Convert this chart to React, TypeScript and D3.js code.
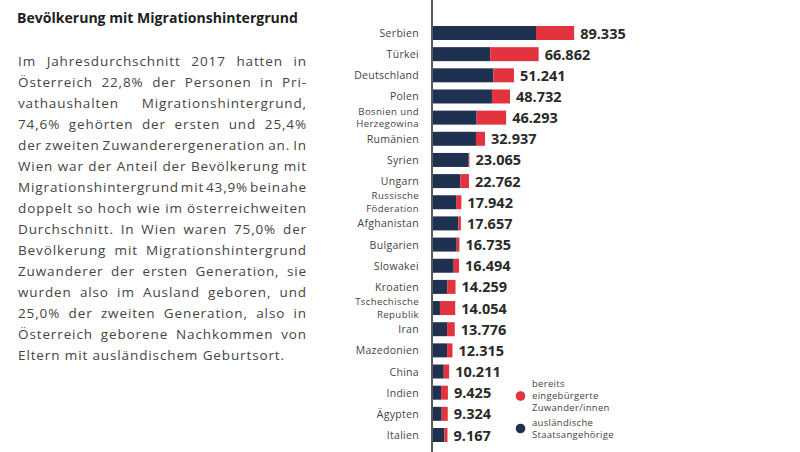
import React, { useMemo } from "react";
import * as d3 from "d3";

const countries = [
  "Serbien", "Türkei", "Deutschland", "Polen", "Bosnien und Herzegowina", "Rumänien",
  "Syrien", "Ungarn", "Russische Föderation", "Afghanistan", "Bulgarien", "Slowakei",
  "Kroatien", "Tschechische Republik", "Iran", "Mazedonien", "China", "Indien", "Ägypten", "Italien",
];
const totals = [89335, 66862, 51241, 48732, 46293, 32937, 23065, 22762, 17942, 17657, 16735, 16494, 14259, 14054, 13776, 12315, 10211, 9425, 9324, 9167];
const foreignNationals = [65200, 36200, 38200, 37300, 27600, 27200, 22600, 17300, 14600, 16000, 15000, 13100, 9000, 4400, 8900, 8900, 6800, 5100, 5500, 7200];
const naturalized = [24135, 30662, 13041, 11432, 18693, 5737, 465, 5462, 3342, 1657, 1735, 3394, 5259, 9654, 4876, 3415, 3411, 4325, 3824, 1967];

const title = "Bevölkerung mit Migrationshintergrund";
const bodyLines = [
  "Im Jahresdurchschnitt 2017 hatten in",
  "Österreich 22,8% der Personen in Pri-",
  "vathaushalten Migrationshintergrund,",
  "74,6% gehörten der ersten und 25,4%",
  "der zweiten Zuwanderergeneration an. In",
  "Wien war der Anteil der Bevölkerung mit",
  "Migrationshintergrund mit 43,9% beinahe",
  "doppelt so hoch wie im österreichweiten",
  "Durchschnitt. In Wien waren 75,0% der",
  "Bevölkerung mit Migrationshintergrund",
  "Zuwanderer der ersten Generation, sie",
  "wurden also im Ausland geboren, und",
  "25,0% der zweiten Generation, also in",
  "Österreich geborene Nachkommen von",
  "Eltern mit ausländischem Geburtsort.",
];
const legendRed = ["bereits", "eingebürgerte", "Zuwander/innen"];
const legendDark = ["ausländische", "Staatsangehörige"];

const RED = "#e2333e";
const NAVY = "#1e3150";
const FONT = "'Open Sans', 'DejaVu Sans', sans-serif";

const W = 800;
const H = 452;

export default function App() {
  const x = d3.scaleLinear().domain([0, 90000]).range([433, 575.2]);
  const y = d3.scalePoint<string>().domain(countries).range([33, 435]);
  const barH = 14;
  const fmt = d3.formatLocale({ decimal: ",", thousands: ".", grouping: [3], currency: ["", "€"] }).format(",d");

  const bodySize = 13.5;
  const textX = 18;
  const textW = 289;
  const lastLineW = 267;

  const { lines, tracking } = useMemo(() => {
    const canvas = document.createElement("canvas");
    const ctx = canvas.getContext("2d")!;
    ctx.font = `${bodySize}px 'Open Sans'`;
    const lastLine = bodyLines[bodyLines.length - 1];
    const tr = Math.max(0, (lastLineW - ctx.measureText(lastLine).width) / lastLine.length);
    const mw = (s: string) => ctx.measureText(s).width + tr * s.length;
    const out = bodyLines.map((line, i) => {
      const words = line.split(" ");
      const widths = words.map((w) => mw(w));
      const sum = widths.reduce((a, b) => a + b, 0);
      const last = i === bodyLines.length - 1;
      const space = last || words.length < 2 ? mw(" ") : (textW - sum) / (words.length - 1);
      let cx = textX;
      return words.map((w, j) => {
        const pos = cx;
        cx += widths[j] + space;
        return { w, pos };
      });
    });
    return { lines: out, tracking: tr };
  }, []);

  return (
    <svg width={W} height={H} style={{ display: "block", position: "absolute", left: 0, top: 0, background: "#fff" }}>
      <rect width={W} height={H} fill="#fff" />
      <text x={17} y={23} fontFamily={FONT} fontWeight={700} fontSize={14} fill="#1e1e1e" textLength={281} lengthAdjust="spacingAndGlyphs">
        {title}
      </text>
      {lines.map((words, i) => (
        <text key={i} y={66 + i * 21} fontFamily={FONT} fontSize={bodySize} fill="#444" letterSpacing={tracking}>
          {words.map((d, j) => (
            <tspan key={j} x={d.pos}>{d.w}</tspan>
          ))}
        </text>
      ))}

      {countries.map((c, i) => {
        const cy = y(c)!;
        const parts = c.length > 12 && c.includes(" ")
          ? [c.slice(0, c.lastIndexOf(" ")), c.slice(c.lastIndexOf(" ") + 1)]
          : [c];
        const x0 = x(0);
        const x1 = x(foreignNationals[i]);
        const x2 = x(foreignNationals[i] + naturalized[i]);
        return (
          <g key={c}>
            <rect x={x0} y={cy - barH / 2} width={x1 - x0} height={barH} fill={NAVY} />
            <rect x={x1} y={cy - barH / 2} width={x2 - x1} height={barH} fill={RED} />
            {parts.length === 1 ? (
              <text x={419} y={cy + 4} textAnchor="end" fontFamily={FONT} fontSize={10.5} fill="#444" letterSpacing={0.3}>{c}</text>
            ) : (
              parts.map((p, k) => (
                <text key={k} x={419} y={cy - 3 + k * 12.5} textAnchor="end" fontFamily={FONT} fontSize={9.6} fill="#444" letterSpacing={0.4}>{p}</text>
              ))
            )}
            <text x={x(totals[i]) + 6} y={cy + 5.5} fontFamily={FONT} fontWeight={700} fontSize={14.5} fill="#2a2a2a">
              {fmt(totals[i])}
            </text>
          </g>
        );
      })}

      <line x1={432} x2={432} y1={0} y2={H} stroke="#222" strokeWidth={1.5} />

      <circle cx={520.5} cy={396} r={4.8} fill={RED} />
      {legendRed.map((t, k) => (
        <text key={t} x={532} y={386.5 + k * 12} fontFamily={FONT} fontSize={9.5} fill="#444" letterSpacing={0.3}>{t}</text>
      ))}
      <circle cx={520.5} cy={428.5} r={4.8} fill={NAVY} />
      {legendDark.map((t, k) => (
        <text key={t} x={532} y={426 + k * 12} fontFamily={FONT} fontSize={9.5} fill="#444" letterSpacing={0.3}>{t}</text>
      ))}
    </svg>
  );
}
